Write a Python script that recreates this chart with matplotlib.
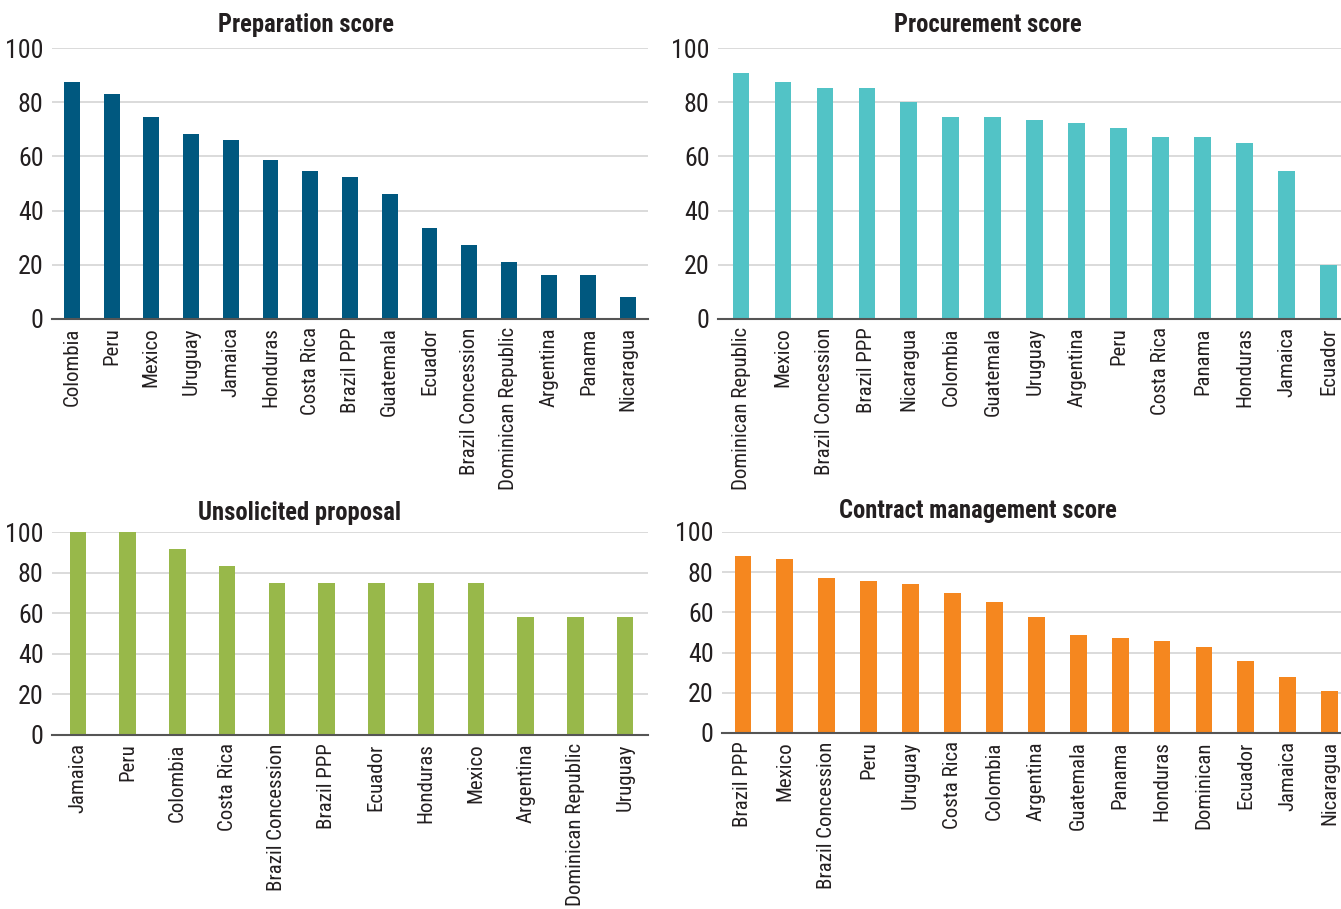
import matplotlib
matplotlib.use("Agg")
import matplotlib.pyplot as plt
from matplotlib import font_manager
from matplotlib.font_manager import FontProperties
from matplotlib.textpath import TextPath

# ---- data ----
prep_countries = ["Colombia", "Peru", "Mexico", "Uruguay", "Jamaica", "Honduras", "Costa Rica",
                  "Brazil PPP", "Guatemala", "Ecuador", "Brazil Concession", "Dominican Republic",
                  "Argentina", "Panama", "Nicaragua"]
prep_values = [87.3, 83.2, 74.7, 68.4, 66.1, 58.7, 54.6, 52.4, 46.1, 33.5, 27.2, 20.9, 16.4, 16.4, 8.3]

proc_countries = ["Dominican Republic", "Mexico", "Brazil Concession", "Brazil PPP", "Nicaragua",
                  "Colombia", "Guatemala", "Uruguay", "Argentina", "Peru", "Costa Rica", "Panama",
                  "Honduras", "Jamaica", "Ecuador"]
proc_values = [90.6, 87.3, 85.4, 85.4, 79.9, 74.7, 74.7, 73.5, 72.4, 70.6, 67.2, 67.2, 65.0, 54.6, 19.8]

unsol_countries = ["Jamaica", "Peru", "Colombia", "Costa Rica", "Brazil Concession", "Brazil PPP",
                   "Ecuador", "Honduras", "Mexico", "Argentina", "Dominican Republic", "Uruguay"]
unsol_values = [100, 100, 91.7, 83.3, 75, 75, 75, 75, 75, 58.3, 58.3, 58.3]

cm_countries = ["Brazil PPP", "Mexico", "Brazil Concession", "Peru", "Uruguay", "Costa Rica",
                "Colombia", "Argentina", "Guatemala", "Panama", "Honduras", "Dominican", "Ecuador",
                "Jamaica", "Nicaragua"]
cm_values = [88.2, 86.8, 77.3, 75.8, 74.3, 69.9, 65.4, 57.9, 49.0, 47.5, 46.0, 43.0, 35.6, 28.1, 20.7]

titles = ["Preparation score", "Procurement score", "Unsolicited proposal", "Contract management score"]
y_ticks = [0, 20, 40, 60, 80, 100]

# ---- font selection: prefer a condensed / narrow face ----
def is_condensed(f):
    st = f.stretch
    if isinstance(st, str):
        return st in ("condensed", "semi-condensed", "extra-condensed", "ultra-condensed")
    return st < 500

def weight_num(f):
    w = f.weight
    if isinstance(w, str):
        return {"bold": 700, "normal": 400, "regular": 400, "book": 400}.get(w, 400)
    return w

pref = ["Liberation Sans Narrow", "Roboto Condensed", "Open Sans Condensed", "Noto Sans",
        "Roboto", "Open Sans", "DejaVu Sans", "Liberation Sans", "Noto Sans Display"]
fl = font_manager.fontManager.ttflist
reg_file, bold_file = None, None
for fam in pref:
    cands = [f for f in fl if f.name == fam and f.style == "normal" and
             (is_condensed(f) or "Narrow" in fam or "Condensed" in fam)]
    regs = [f for f in cands if 350 <= weight_num(f) <= 450]
    bolds = [f for f in cands if weight_num(f) >= 600]
    if regs:
        reg_file = regs[0].fname
        bold_file = (sorted(bolds, key=lambda f: abs(weight_num(f) - 700))[0].fname if bolds else None)
        break

if reg_file:
    fp_reg = FontProperties(fname=reg_file)
    fp_bold = FontProperties(fname=bold_file) if bold_file else FontProperties(fname=reg_file, weight="bold")
else:
    fp_reg = FontProperties(family="DejaVu Sans")
    fp_bold = FontProperties(family="DejaVu Sans", weight="bold")

def fit_size(fp, text, target_px):
    p = TextPath((0, 0), text, size=100, prop=fp)
    w = p.get_extents().width
    return 100 * target_px / (w * 100 / 72)

tick_size = fit_size(fp_reg, "Dominican Republic", 161)
ytick_size = fit_size(fp_reg, "100", 35)
title_size = fit_size(fp_bold, "Preparation score", 174)

W, H = 1341, 909
fig = plt.figure(figsize=(W / 100, H / 100), dpi=100)

def px_axes(left, right, top, bottom):
    return fig.add_axes([left / W, 1 - bottom / H, (right - left) / W, (bottom - top) / H])

panels = [
    (prep_countries, prep_values, "#00587f", (52, 648, 48, 319), (-0.5, 14.5), (306, 25), 0.40),
    (proc_countries, proc_values, "#52c3c6", (718, 1341, 48, 319), (-0.55, 14.3), (988, 25), 0.40),
    (unsol_countries, unsol_values, "#98b84a", (52, 648, 532, 735), (-0.52, 11.46), (300, 513), 0.33),
    (cm_countries, cm_values, "#f5871f", (722, 1341, 532, 733), (-0.5, 14.27), (978, 511), 0.40),
]

for (cats, vals, color, box, xlim, tpos, bw), title in zip(panels, titles):
    ax = px_axes(*box)
    x = list(range(len(cats)))
    ax.bar(x, vals, width=bw, color=color, zorder=3)
    ax.set_xlim(*xlim)
    ax.set_ylim(0, 100)
    ax.set_yticks(y_ticks)
    ax.set_xticks(x)
    fpx = fp_reg.copy(); fpx.set_size(tick_size)
    ax.set_xticklabels(cats, rotation=90, fontproperties=fpx, color="#231f20")
    fpy = fp_reg.copy(); fpy.set_size(ytick_size)
    ax.set_yticklabels([str(v) for v in y_ticks], fontproperties=fpy, color="#231f20")
    ax.tick_params(axis='y', length=0, pad=6)
    ax.tick_params(axis='x', length=0, pad=6)
    ax.grid(axis='y', color="#d4d4d4", linewidth=1.2, zorder=0)
    for s in ["top", "left", "right"]:
        ax.spines[s].set_visible(False)
    ax.spines["bottom"].set_color("#555555")
    ax.spines["bottom"].set_linewidth(1.5)
    ax.spines["bottom"].set_zorder(4)
    fpt = fp_bold.copy(); fpt.set_size(title_size)
    fig.text(tpos[0] / W, 1 - tpos[1] / H, title, ha="center", va="center",
             fontproperties=fpt, color="#231f20")

fig.savefig("out.png", dpi=100)
